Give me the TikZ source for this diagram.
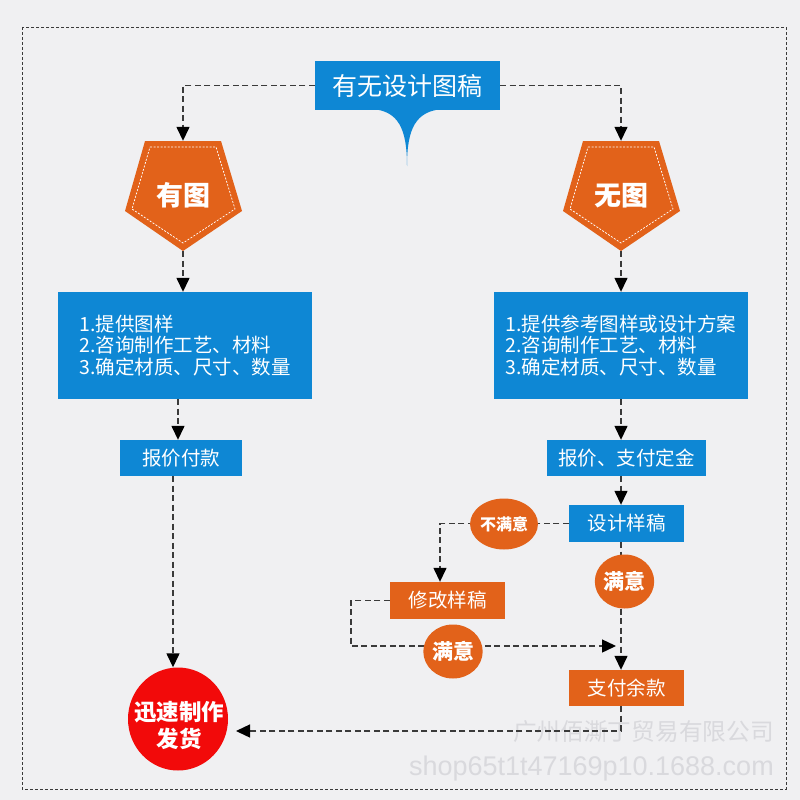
\documentclass[tikz,border=0pt]{standalone}
\usepackage{fontspec}
\setmainfont{Noto Sans CJK SC}
\newfontfamily\wmfont{Liberation Sans}
\usetikzlibrary{arrows.meta,shapes.geometric}
\definecolor{bg}{HTML}{F0F0F2}
\definecolor{myblue}{HTML}{0E87D4}
\definecolor{myorange}{HTML}{E2621A}
\definecolor{myred}{HTML}{F20A0A}
\definecolor{dashc}{HTML}{3A3A3A}
\definecolor{wm}{HTML}{D9D9DD}
\tikzset{
  flow/.style={draw=dashc, line width=1.4pt, dash pattern=on 6pt off 3.5pt},
  arr/.style={flow, -{Triangle[width=13pt,length=14pt,color=black]}},
  bluebox/.style={fill=myblue, text=white, inner sep=0pt, font=\fontsize{19.5}{21.5}\selectfont},
  orbox/.style={fill=myorange, text=white, inner sep=0pt, font=\fontsize{19.5}{21.5}\selectfont},
  pent/.style={inner sep=0pt, minimum width=117pt, minimum height=110pt, text=white, font=\fontsize{27}{29}\selectfont\bfseries},
  orcirc/.style={ellipse, fill=myorange, inner sep=0pt, text=white},
  pentfill/.style={fill=myorange},
  pentline/.style={draw=white, line width=0.7pt, dash pattern=on 2pt off 1.5pt},
}
\begin{document}
\begin{tikzpicture}[x=1pt,y=-1pt]
\fill[bg] (0,0) rectangle (800,800);
\useasboundingbox (0,0) rectangle (800,800);
\draw[dashc, line width=0.9pt, dash pattern=on 3pt off 2pt] (22,27) rectangle (786,789);

% watermark
\node[anchor=east, text=wm, font=\fontsize{23.7}{26}\selectfont, inner sep=0pt] (wm1) at (774,732) {广州佰澌丁贸易有限公司};
\node[anchor=east, text=wm, font=\wmfont\fontsize{27}{30}\selectfont, inner sep=0pt] (wm2) at (774,769) {shop65t1t47169p10.1688.com};

% title
\fill[myblue] (372,109) .. controls (398,111) and (407,128) .. (407,166) .. controls (407,128) and (416,111) .. (443,109) -- cycle;
\node[fill=myblue, text=white, inner sep=0pt, minimum width=185pt, minimum height=49pt, font=\fontsize{25}{28}\selectfont] (T) at (407.5,85.5) {有无设计图稿};

% pentagons
\fill[pentfill, shift={(183,196)}] (-38,-55) -- (38,-55) -- (59,15) -- (0,55) -- (-58,15) -- cycle;
\draw[pentline, shift={(183,196)}] (-33,-49) -- (33,-49) -- (52,13) -- (0,47) -- (-51,13) -- cycle;
\node[pent] (P1) at (183,196) {\raisebox{4pt}{有图}};
\fill[pentfill, shift={(621,196)}] (-38,-55) -- (38,-55) -- (59,15) -- (0,55) -- (-58,15) -- cycle;
\draw[pentline, shift={(621,196)}] (-33,-49) -- (33,-49) -- (52,13) -- (0,47) -- (-51,13) -- cycle;
\node[pent] (P2) at (621,196) {\raisebox{4pt}{无图}};

% blue boxes
\node[bluebox, minimum width=254pt, minimum height=107pt, align=left] (B1) at (185,345.5) {1.提供图样\\2.咨询制作工艺、材料\\3.确定材质、尺寸、数量};
\node[bluebox, minimum width=254pt, minimum height=107pt, align=left] (B2) at (621,345.5) {1.提供参考图样或设计方案\\2.咨询制作工艺、材料\\3.确定材质、尺寸、数量};
\node[bluebox, minimum width=122pt, minimum height=36pt] (K1) at (181,458) {报价付款};
\node[bluebox, minimum width=159pt, minimum height=36pt] (K2) at (626.5,458) {报价、支付定金};
\node[bluebox, minimum width=115pt, minimum height=37pt] (S) at (626.5,523.5) {设计样稿};
\node[orbox, minimum width=115pt, minimum height=37pt] (M) at (447.5,600.5) {修改样稿};
\node[orbox, minimum width=115pt, minimum height=36pt] (PB) at (626.5,688) {支付余款};

% connectors
\draw[arr] (T.west) -| (P1.north);
\draw[arr] (T.east) -| (P2.north);
\draw[arr] (P1.south) -- (P1.south |- B1.north);
\draw[arr] (P2.south) -- (P2.south |- B2.north);
\draw[arr] ([xshift=-3pt]K1.north |- B1.south) -- ([xshift=-3pt]K1.north);
\draw[arr] (B2.south) -- (B2.south |- K2.north);
\draw[arr] (B2.south |- K2.south) -- (B2.south |- S.north);
\draw[arr] (S.west) -| ([xshift=-7.5pt]M.north);
\draw[arr] (B2.south |- S.south) -- (B2.south |- PB.north);
\coordinate (J) at (616,646);
\draw[arr] (M.west) -- ++(-39,0) |- (J);
\node[ellipse, fill=myred, inner sep=0pt, minimum width=100pt, minimum height=103pt] (R) at (178,719) {};
\node[text=white, align=center, inner sep=0pt, font=\fontsize{22.5}{27}\selectfont\bfseries] (RT) at (179,725) {迅速制作\\发货};
\draw[arr] ([xshift=-8pt]K1.south) -- ([xshift=-8pt]K1.south |- R.north);
\coordinate (RI) at (236,731);
\draw[arr] (B2.south |- PB.south) |- (RI);

% decision circles
\node[orcirc, minimum width=54pt, minimum height=51pt, font=\fontsize{16}{18}\selectfont\bfseries] (N1) at (504,524) {不满意};
\node[orcirc, minimum width=55pt, minimum height=54pt, font=\fontsize{21}{23}\selectfont\bfseries] (Y1) at (624.5,581.5) {满意};
\node[orcirc, minimum width=55pt, minimum height=54pt, font=\fontsize{21}{23}\selectfont\bfseries] (Y2) at (453,651.5) {满意};
\end{tikzpicture}
\end{document}
